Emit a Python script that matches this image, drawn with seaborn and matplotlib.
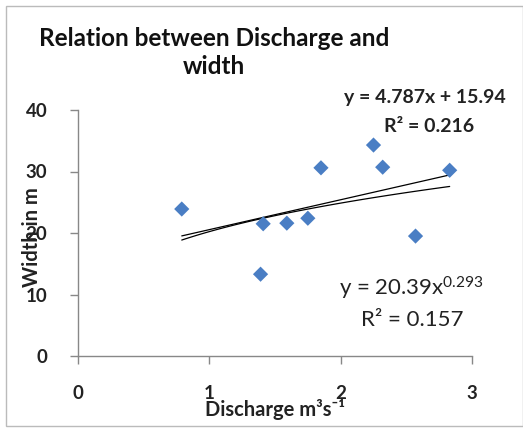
import numpy as np
import pandas as pd
import matplotlib
matplotlib.use("Agg")
import matplotlib.pyplot as plt
from matplotlib.patches import Rectangle
import seaborn as sns

# Data
discharge = [0.79, 1.41, 1.39, 1.59, 1.75, 1.85, 2.25, 2.32, 2.57, 2.83]
width = [23.9, 21.5, 13.3, 21.6, 22.4, 30.6, 34.3, 30.7, 19.5, 30.2]
x_ticks = [0, 1, 2, 3]
y_ticks = [0, 10, 20, 30, 40]
title = "Relation between Discharge and\nwidth"
linear_eq = "y = 4.787x + 15.94"
linear_r2 = "R² = 0.216"
power_eq = "y = 20.39x$^{0.293}$"
power_r2 = "R² = 0.157"

df = pd.DataFrame({"Discharge": discharge, "Width": width})

sns.set_theme(style="white")
plt.rcParams["font.family"] = ["Lato", "DejaVu Sans"]
plt.rcParams["mathtext.fontset"] = "custom"
plt.rcParams["mathtext.rm"] = "Lato"
plt.rcParams["mathtext.it"] = "Lato:italic"
plt.rcParams["mathtext.bf"] = "Lato:bold"

W, H = 523, 428
fig = plt.figure(figsize=(W / 100, H / 100), dpi=100)
ax = fig.add_axes([78 / W, 1 - 356 / H, (472 - 78) / W, (356 - 110) / H])

sns.scatterplot(data=df, x="Discharge", y="Width", marker="D", s=60,
                color="#4A7EC4", edgecolor="none", ax=ax, zorder=3)
sns.regplot(data=df, x="Discharge", y="Width", scatter=False, ci=None,
            color="black", line_kws={"lw": 0.9}, ax=ax, truncate=True)

# power trend line fitted from the data (log-log least squares)
b, loga = np.polyfit(np.log(df["Discharge"]), np.log(df["Width"]), 1)
xs = np.linspace(min(discharge), max(discharge), 100)
sns.lineplot(x=xs, y=np.exp(loga) * xs ** b, color="black", lw=0.9, ax=ax)

ax.set_xlim(0, 3)
ax.set_ylim(0, 40)
ax.set_xticks(x_ticks)
ax.set_yticks(y_ticks)
ax.set_xticklabels([str(t) for t in x_ticks], fontsize=13.5, fontweight="bold", color="#222222")
ax.set_yticklabels([str(t) for t in y_ticks], fontsize=13.5, fontweight="bold", color="#222222")
ax.tick_params(axis="x", direction="out", length=6, width=1, color="#888888", pad=15, bottom=True)
ax.tick_params(axis="y", direction="out", length=6, width=1, color="#888888", pad=16, left=True)
for side in ["top", "right"]:
    ax.spines[side].set_visible(False)
for side in ["left", "bottom"]:
    ax.spines[side].set_color("#888888")
    ax.spines[side].set_linewidth(1)
ax.set_xlabel("")
ax.set_ylabel("")

fig.text(275 / W, 1 - 410 / H, "Discharge m³s⁻¹", ha="center", va="center",
         fontsize=14.5, fontweight="bold", color="#222222")
fig.text(32 / W, 1 - 237 / H, "Width in m", ha="center", va="center",
         rotation=90, fontsize=14.5, fontweight="bold", color="#222222")

fig.text(214 / W, 1 - 74 / H, title, ha="center", va="baseline",
         fontsize=17.5, fontweight="bold", color="#111111", linespacing=1.25)

fig.text(425 / W, 1 - 98 / H, linear_eq, ha="center", va="center",
         fontsize=14, fontweight="bold", color="#222222")
fig.text(429 / W, 1 - 126 / H, linear_r2, ha="center", va="center",
         fontsize=14, fontweight="bold", color="#222222")
fig.text(411 / W, 1 - 288 / H, power_eq, ha="center", va="center",
         fontsize=16, color="#222222")
fig.text(412 / W, 1 - 320 / H, power_r2, ha="center", va="center",
         fontsize=16, color="#222222")

fig.patches.append(Rectangle((6 / W, 2 / H), 1 - 6 / W, 1 - 8 / H,
                             transform=fig.transFigure, fill=False,
                             edgecolor="#bbbbbb", lw=1))

fig.savefig("out.png", dpi=100)
